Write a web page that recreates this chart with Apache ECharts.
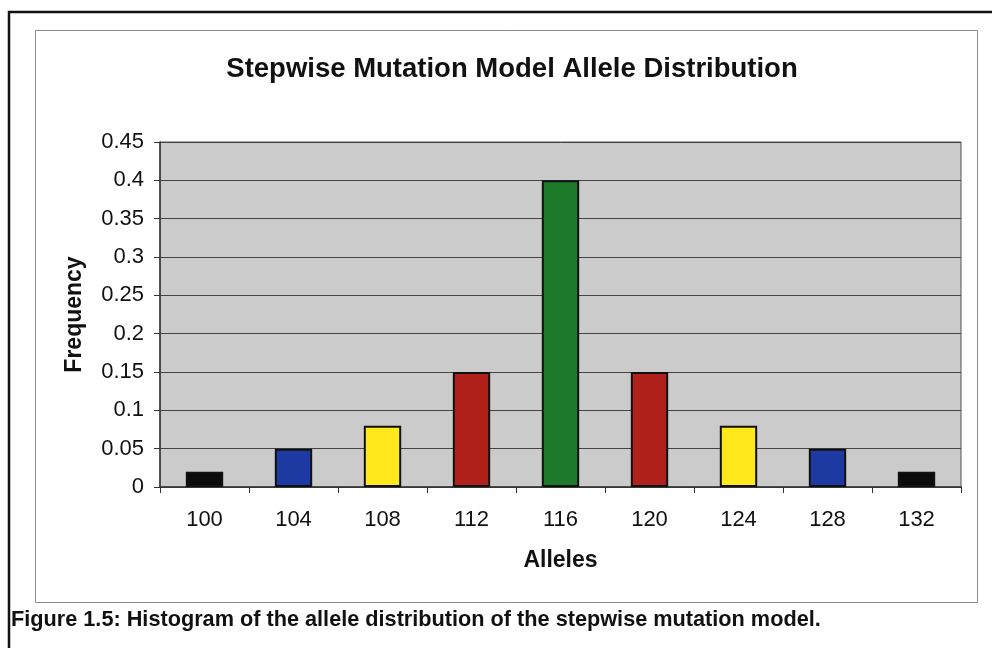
<!DOCTYPE html>
<html>
<head>
<meta charset="utf-8">
<script src="https://cdn.jsdelivr.net/npm/echarts@6/dist/echarts.min.js"></script>
<style>
  html, body { margin: 0; padding: 0; background: #ffffff; }
  #chart { width: 992px; height: 648px; }
</style>
</head>
<body>
<div id="chart"></div>
<script>
// Allele sizes and their frequencies under the stepwise mutation model
var alleles = ['100', '104', '108', '112', '116', '120', '124', '128', '132'];
var frequencies = [0.02, 0.05, 0.08, 0.15, 0.4, 0.15, 0.08, 0.05, 0.02];
var barColors = ['#0b0b0b', '#1d3aa3', '#ffe81c', '#b0211b', '#1e7a2b', '#b0211b', '#ffe81c', '#1d3aa3', '#0b0b0b'];
var yTicks = [0, 0.05, 0.1, 0.15, 0.2, 0.25, 0.3, 0.35, 0.4, 0.45];

var chart = echarts.init(document.getElementById('chart'), null, { renderer: 'canvas' });
var font = 'Liberation Sans, Arial, Helvetica, sans-serif';

var option = {
  backgroundColor: '#ffffff',
  animation: false,
  title: {
    text: 'Stepwise Mutation Model Allele Distribution',
    left: 507,
    top: 50,
    textAlign: 'center',
    textStyle: { fontFamily: font, fontSize: 27.5, fontWeight: 'bold', color: '#111' }
  },
  grid: {
    left: 160, right: 31, top: 142, bottom: 161,
    show: true,
    backgroundColor: '#cbcbcb',
    borderColor: '#555',
    borderWidth: 1
  },
  xAxis: {
    type: 'category',
    data: alleles,
    name: 'Alleles',
    nameLocation: 'middle',
    nameGap: 62,
    nameTextStyle: { fontFamily: font, fontSize: 23, fontWeight: 'bold', color: '#111' },
    axisLine: { lineStyle: { color: '#333', width: 1.5 } },
    axisTick: { show: true, length: 6, lineStyle: { color: '#333' } },
    axisLabel: { fontFamily: font, fontSize: 22, color: '#111', margin: 22 }
  },
  yAxis: {
    type: 'value',
    min: 0,
    max: 0.45,
    interval: 0.05,
    name: 'Frequency',
    nameLocation: 'middle',
    nameGap: 74,
    nameRotate: 90,
    nameTextStyle: { fontFamily: font, fontSize: 23, fontWeight: 'bold', color: '#111' },
    axisLine: { show: true, lineStyle: { color: '#333', width: 1.5 } },
    axisTick: { show: true, inside: false, length: 6, lineStyle: { color: '#333' } },
    axisLabel: {
      fontFamily: font, fontSize: 22, color: '#111', margin: 16,
      formatter: function (v) {
        var t = yTicks.find(function (x) { return Math.abs(x - v) < 1e-9; });
        return t === undefined ? '' : String(t);
      }
    },
    splitLine: { show: true, lineStyle: { color: '#444', width: 1 } }
  },
  series: [{
    type: 'bar',
    barWidth: '42%',
    data: frequencies.map(function (v, i) {
      return { value: v, itemStyle: { color: barColors[i] } };
    }),
    itemStyle: { borderColor: '#111', borderWidth: 2 }
  }],
  graphic: [
    // outer frame of the figure
    { type: 'polyline', shape: { points: [[9, 648], [9, 12], [992, 12]] },
      style: { stroke: '#111', lineWidth: 2.5, fill: null }, silent: true },
    // chart area border
    { type: 'rect', shape: { x: 35.5, y: 30.5, width: 942, height: 572 },
      style: { stroke: '#8a8a8a', lineWidth: 1, fill: null }, silent: true, z: -1 },
    // figure caption
    { type: 'text', left: 11, top: 609,
      style: { text: 'Figure 1.5: Histogram of the allele distribution of the stepwise mutation model.',
               font: 'bold 21.7px ' + font, fill: '#111' } }
  ]
};

chart.setOption(option);
</script>
</body>
</html>
